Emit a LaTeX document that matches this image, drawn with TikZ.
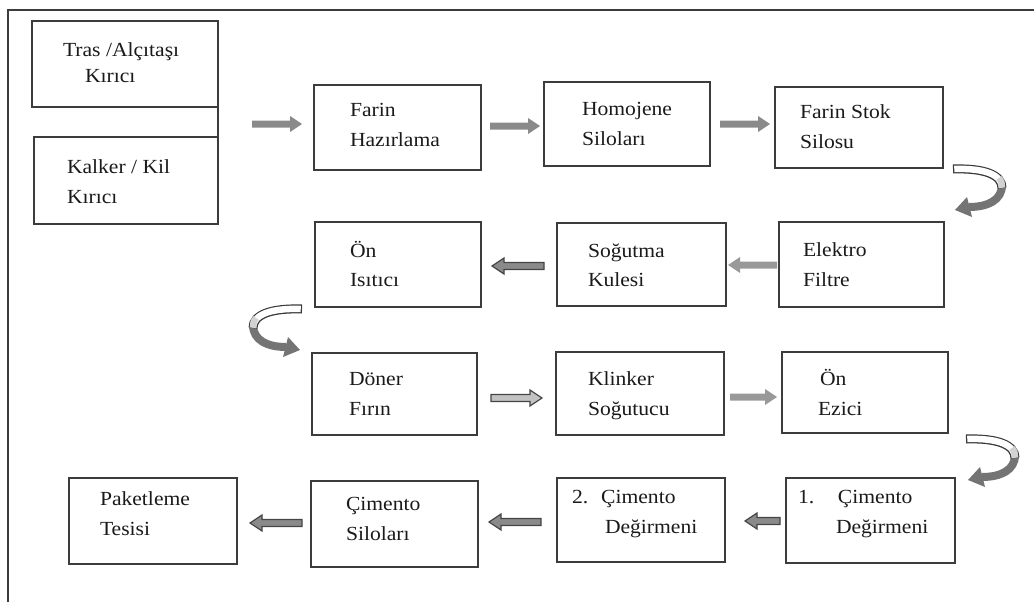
\documentclass[tikz,border=0pt]{standalone}
\usepackage{fontspec}
\setmainfont{Liberation Serif}
\usepackage{graphicx}
\usetikzlibrary{calc}
\definecolor{boxline}{HTML}{3C3C3C}
\definecolor{arrfill}{HTML}{8A8A8A}
\definecolor{arrlight}{HTML}{999999}
\definecolor{arrline}{HTML}{454545}
\definecolor{txtcol}{HTML}{1A1A1A}
\definecolor{curgray}{HTML}{747474}
\definecolor{curline}{HTML}{3A3A3A}
\newcommand{\wtxt}[1]{\scalebox{1.08}[1]{#1}}
\newcommand{\blockarr}[3]{%
  \path[#1] let \p1=(#2), \p2=(#3), \n1={ifthenelse(\x2>\x1,1,-1)} in
    (\x1,{\y1+3.5pt}) -- ({\x2-(\n1)*12pt},{\y1+3.5pt}) -- ({\x2-(\n1)*12pt},{\y1+8pt}) -- (\x2,\y1)
    -- ({\x2-(\n1)*12pt},{\y1-8pt}) -- ({\x2-(\n1)*12pt},{\y1-3.5pt}) -- (\x1,{\y1-3.5pt}) -- cycle;}
\tikzset{
  uturn/.pic={
    \draw[line width=8pt, curgray] (49,16) .. controls (49,31) and (35,38) .. (16,38);
    \fill[curgray] (14,28) -- (2,41) -- (19,48) -- cycle;
    \draw[line width=9pt, curline] (0,0) .. controls (32,-1) and (49,6) .. (49,19);
    \draw[line width=6.5pt, white] (1.25,0) .. controls (32,-1) and (49,6) .. (49,18.6);
    \draw[line width=6.5pt, gray!35] (46,9) .. controls (48.5,12) and (49,15) .. (49,18.6);
  }
}
\begin{document}
\begin{tikzpicture}[x=1pt,y=-1pt,
  box/.style={draw=boxline, line width=1.4pt, fill=white, inner sep=0pt, outer sep=0pt},
  lbl/.style={anchor=base west, inner sep=0pt, outer sep=0pt, text=txtcol, font=\fontsize{20}{24}\selectfont},
  solidarr/.style={fill=arrfill},
  lightarr/.style={fill=arrlight},
  outarr/.style={fill=arrfill, draw=arrline, line width=1.2pt, line join=miter},
  outlight/.style={fill=arrlight!60!white, draw=arrline, line width=1.2pt, line join=miter},
  frame/.style={draw=boxline, line width=1.4pt}]
\useasboundingbox (0,0) rectangle (1034,602);
\draw[frame] (8,602) -- (8,10) -- (1034,10);

% boxes
\node[box, minimum width=186pt, minimum height=86pt] (tras) at (125,64) {};
\node[box, minimum width=184pt, minimum height=87pt] (kalker) at (126,180.5) {};
\node[box, minimum width=167pt, minimum height=85pt] (fh) at (397.5,127.5) {};
\node[box, minimum width=166pt, minimum height=84pt] (hs) at (627,124) {};
\node[box, minimum width=168pt, minimum height=81pt] (fs) at (859,127.5) {};
\node[box, minimum width=166pt, minimum height=85pt] (on) at (398,264.5) {};
\node[box, minimum width=169pt, minimum height=83pt] (sk) at (641.5,264.5) {};
\node[box, minimum width=165pt, minimum height=85pt] (ef) at (861.5,264.5) {};
\node[box, minimum width=165pt, minimum height=82pt] (df) at (394.5,394) {};
\node[box, minimum width=168pt, minimum height=83pt] (ks) at (640,393.5) {};
\node[box, minimum width=166pt, minimum height=81pt] (oe) at (865,392.5) {};
\node[box, minimum width=168pt, minimum height=86pt] (pt) at (153,521) {};
\node[box, minimum width=167pt, minimum height=86pt] (cs) at (394.5,524) {};
\node[box, minimum width=168pt, minimum height=84pt] (c2) at (641,520) {};
\node[box, minimum width=169pt, minimum height=85pt] (c1) at (870.5,520.5) {};
\draw[frame] (tras.south east) -- (kalker.north east);
\coordinate (kj) at ($(tras.south east)!0.5!(kalker.north east)$);

% texts
\node[lbl] (tras1) at (63,57) {\wtxt{Tras /Alçıtaşı}};
\node[lbl] (tras2) at (85,83) {\wtxt{Kırıcı}};
\node[lbl] (kal1) at (67,173) {\wtxt{Kalker / Kil}};
\node[lbl] (kal2) at (67,203) {\wtxt{Kırıcı}};
\node[lbl] (fh1) at (350,116) {\wtxt{Farin}};
\node[lbl] (fh2) at (350,146) {\wtxt{Hazırlama}};
\node[lbl] (hs1) at (582,115) {\wtxt{Homojene}};
\node[lbl] (hs2) at (582,145) {\wtxt{Siloları}};
\node[lbl] (fs1) at (800,118) {\wtxt{Farin Stok}};
\node[lbl] (fs2) at (800,148) {\wtxt{Silosu}};
\node[lbl] (on1) at (350,257) {\wtxt{Ön}};
\node[lbl] (on2) at (350,286) {\wtxt{Isıtıcı}};
\node[lbl] (sk1) at (588,257) {\wtxt{Soğutma}};
\node[lbl] (sk2) at (588,286) {\wtxt{Kulesi}};
\node[lbl] (ef1) at (803,256) {\wtxt{Elektro}};
\node[lbl] (ef2) at (803,286) {\wtxt{Filtre}};
\node[lbl] (df1) at (349,385) {\wtxt{Döner}};
\node[lbl] (df2) at (349,415) {\wtxt{Fırın}};
\node[lbl] (ks1) at (588,385) {\wtxt{Klinker}};
\node[lbl] (ks2) at (588,415) {\wtxt{Soğutucu}};
\node[lbl] (oe1) at (820,385) {\wtxt{Ön}};
\node[lbl] (oe2) at (818,415) {\wtxt{Ezici}};
\node[lbl] (pt1) at (100,505) {\wtxt{Paketleme}};
\node[lbl] (pt2) at (100,535) {\wtxt{Tesisi}};
\node[lbl] (cs1) at (346,510) {\wtxt{Çimento}};
\node[lbl] (cs2) at (346,540) {\wtxt{Siloları}};
\node[lbl] (c21) at (572,503) {\wtxt{2.\hspace{12pt}Çimento}};
\node[lbl] (c22) at (605,533) {\wtxt{Değirmeni}};
\node[lbl] (c11) at (798,503) {\wtxt{1.\hspace{22pt}Çimento}};
\node[lbl] (c12) at (836,533) {\wtxt{Değirmeni}};

% straight block arrows
\blockarr{solidarr}{[shift={(34,2)}]kj}{[shift={(-12,-3.5)}]fh.west}
\blockarr{solidarr}{[shift={(9,-1.5)}]fh.east}{[shift={(-4,2)}]hs.west}
\blockarr{solidarr}{[shift={(10,0)}]hs.east}{[shift={(-5,-3.5)}]fs.west}
\blockarr{lightarr}{[shift={(-2,0.5)}]ef.west}{[shift={(2,0.5)}]sk.east}
\blockarr{outarr}{[shift={(-13,1.5)}]sk.west}{[shift={(11,1.5)}]on.east}
\blockarr{outlight}{[shift={(14,4)}]df.east}{[shift={(-14,4.5)}]ks.west}
\blockarr{lightarr}{[shift={(6,3.5)}]ks.east}{[shift={(-5,4.5)}]oe.west}
\blockarr{outarr}{[shift={(-6,0.5)}]c1.west}{[shift={(20,1)}]c2.east}
\blockarr{outarr}{[shift={(-16,2)}]c2.west}{[shift={(11,-1)}]cs.east}
\blockarr{outarr}{[shift={(-9,-1)}]cs.west}{[shift={(13,2)}]pt.east}

% curved U-turn arrows
\coordinate (u1) at (953,169);
\coordinate (u2) at (302,309);
\coordinate (u3) at (966,439);
\pic at (u1) {uturn};
\pic[xscale=-1] at (u2) {uturn};
\pic at (u3) {uturn};
\end{tikzpicture}
\end{document}
